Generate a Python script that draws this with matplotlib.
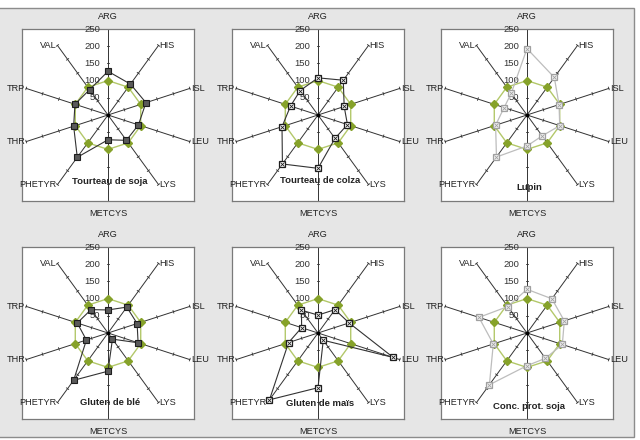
"""
Profils en acides aminés de six matières premières (radar, base 100 = protéine idéale)
"""
import numpy as np
import matplotlib
matplotlib.use('Agg')
matplotlib.rcParams['font.family'] = ['Liberation Sans', 'DejaVu Sans']
import matplotlib.pyplot as plt
from matplotlib.patches import Rectangle

# ---------- données ----------
acides_amines = ['ARG', 'HIS', 'ISL', 'LEU', 'LYS', 'METCYS', 'PHETYR', 'THR', 'TRP', 'VAL']
reference = [100, 100, 100, 100, 100, 100, 100, 100, 100, 100]

tourteau_soja = [127, 111, 116, 93, 91, 72, 152, 105, 101, 91]
tourteau_colza = [108, 125, 80, 90, 84, 155, 176, 110, 84, 88]
lupin = [193, 135, 98, 100, 75, 90, 151, 96, 70, 78]
gluten_ble = [67, 93, 89, 92, 22, 111, 170, 66, 94, 84]
gluten_mais = [52, 84, 95, 230, 26, 159, 240, 90, 50, 82]
conc_prot_soja = [127, 123, 114, 108, 91, 95, 186, 103, 147, 95]

titres = ['Tourteau de soja', 'Tourteau de colza', 'Lupin',
          'Gluten de blé', 'Gluten de maïs', 'Conc. prot. soja']
series = [tourteau_soja, tourteau_colza, lupin, gluten_ble, gluten_mais, conc_prot_soja]
graduations = [50, 100, 150, 200, 250]
rmax = 250

# style des marqueurs : 'plein' (carré gris foncé), 'croix' (carré barré), 'clair' (gris clair)
styles = ['plein', 'croix', 'clair', 'plein', 'croix', 'clair']
titre_y = [-192, -189, -211, -203, -205, -213]

VERT_LIGNE = '#b3c86a'
VERT_MARQ = '#86a22a'
SOMBRE = '#333333'

# angles : ARG en haut, sens horaire
n = len(acides_amines)
angles = np.pi / 2 - np.arange(n) * 2 * np.pi / n


def polaire(r):
    r = np.asarray(r, dtype=float)
    return r * np.cos(angles), r * np.sin(angles)


def fermer(a):
    return np.append(a, a[0])


def dessiner_radar(ax, valeurs, titre, style, ty):
    ax.set_xlim(-rmax, rmax)
    ax.set_ylim(-rmax, rmax)
    ax.set_aspect('equal')
    ax.set_xticks([])
    ax.set_yticks([])
    ax.set_facecolor('white')
    for s in ax.spines.values():
        s.set_color('#7a7a7a')
        s.set_linewidth(0.9)

    # rayons + petites graduations
    for a in angles:
        ax.plot([0, rmax * np.cos(a)], [0, rmax * np.sin(a)], color=SOMBRE, lw=0.7, zorder=2)
        px, py = -np.sin(a), np.cos(a)
        for g in graduations:
            cx, cy = g * np.cos(a), g * np.sin(a)
            ax.plot([cx - 4 * px, cx + 4 * px], [cy - 4 * py, cy + 4 * py],
                    color=SOMBRE, lw=0.6, zorder=2)
    ax.plot(0, 0, 'o', color='black', ms=1.8, zorder=3)

    # étiquettes de l'axe radial
    for g in graduations:
        ax.text(-22, g, str(g), ha='right', va='center', fontsize=6.8,
                color='#333333', zorder=4)

    # noms des acides aminés
    for nom, a in zip(acides_amines, angles):
        x, y = rmax * np.cos(a), rmax * np.sin(a)
        c = np.cos(a)
        if abs(c) < 1e-6:
            ha = 'center'
            va = 'bottom' if y > 0 else 'top'
            y = y + (22 if y > 0 else -22)
        else:
            ha = 'left' if c > 0 else 'right'
            va = 'center'
            x = x + (3 if c > 0 else -3)
        ax.text(x, y, nom, ha=ha, va=va, fontsize=6.6, color='#222222',
                clip_on=False, zorder=4)

    # profil de référence (100)
    rx, ry = polaire(reference)
    ax.plot(fermer(rx), fermer(ry), color=VERT_LIGNE, lw=1.0, zorder=5)
    ax.plot(rx, ry, 'D', color=VERT_MARQ, ms=3.6, mec=VERT_MARQ, zorder=6)

    # profil de la matière première
    vx, vy = polaire(valeurs)
    if style == 'plein':
        ax.plot(fermer(vx), fermer(vy), color=SOMBRE, lw=0.8, zorder=7)
        ax.plot(vx, vy, 's', ms=4.2, mfc='#5a5a5a', mec='#1e1e1e', mew=0.8, zorder=8)
    elif style == 'croix':
        ax.plot(fermer(vx), fermer(vy), color=SOMBRE, lw=0.8, zorder=7)
        ax.plot(vx, vy, 's', ms=4.2, mfc='white', mec='#1e1e1e', mew=0.9, zorder=8)
        ax.plot(vx, vy, 'x', ms=2.6, mec='#1e1e1e', mew=0.6, zorder=9)
    else:
        ax.plot(fermer(vx), fermer(vy), color='#bdbdbd', lw=0.9, zorder=7)
        ax.plot(vx, vy, 's', ms=4.2, mfc='#f4f4f4', mec='#a0a0a0', mew=0.9, zorder=8)
        ax.plot(vx, vy, 'x', ms=2.6, mec='#a0a0a0', mew=0.6, zorder=9)

    ax.text(6, ty, titre, ha='center', va='center', fontsize=6.8,
            fontweight='bold', color='#222222', zorder=10)


W, H = 640, 440
fig = plt.figure(figsize=(W / 100, H / 100), dpi=100)
fig.patch.set_facecolor('white')

# cadre gris du fond
fig.patches.append(Rectangle((-0.01, 3 / H), 634 / W + 0.01, 1 - 11 / H,
                             transform=fig.transFigure, facecolor='#e6e6e6',
                             edgecolor='#8c8c8c', lw=1.0, zorder=-1))

col_x = [22, 232, 441]
row_y = [29, 247]
taille = 172

for i, (valeurs, titre, style, ty) in enumerate(zip(series, titres, styles, titre_y)):
    x0 = col_x[i % 3]
    y0 = row_y[i // 3]
    ax = fig.add_axes([x0 / W, 1 - (y0 + taille) / H, taille / W, taille / H])
    dessiner_radar(ax, valeurs, titre, style, ty)

fig.savefig('out.png', dpi=100, facecolor=fig.get_facecolor())
plt.close(fig)
